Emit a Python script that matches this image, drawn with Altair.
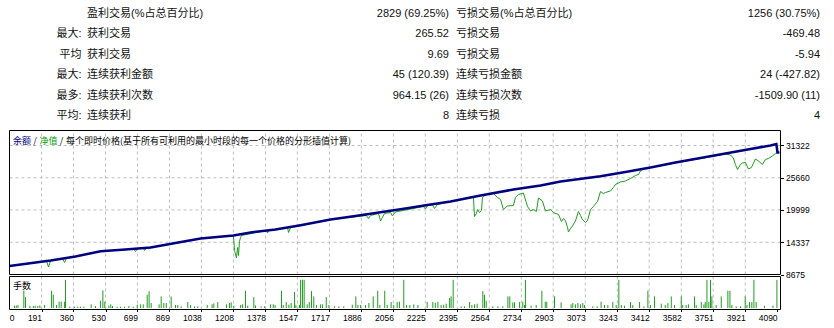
import altair as alt
import pandas as pd

# ---------------- summary table ----------------
row_prefix = ["", "最大:", "平均", "最大:", "最多:", "平均:"]
left_labels = ["盈利交易(%占总百分比)", "获利交易", "获利交易", "连续获利金额", "连续获利次数", "连续获利"]
left_values = ["2829 (69.25%)", "265.52", "9.69", "45 (120.39)", "964.15 (26)", "8"]
right_labels = ["亏损交易(%占总百分比)", "亏损交易", "亏损交易", "连续亏损金额", "连续亏损次数", "连续亏损"]
right_values = ["1256 (30.75%)", "-469.48", "-5.94", "24 (-427.82)", "-1509.90 (11)", "4"]

header_balance = "余额"
header_equity = "净值"
header_rest = "每个即时价格(基于所有可利用的最小时段的每一个价格的分形插值计算)"
volume_title = "手数"

# ---------------- axes ----------------
y_ticks = [8675, 14337, 19999, 25660, 31322]
x_ticks = [0, 191, 360, 530, 699, 869, 1038, 1208, 1378, 1547, 1717, 1886, 2056,
           2225, 2395, 2564, 2734, 2903, 3073, 3243, 3412, 3582, 3751, 3921, 4090]

# ---------------- balance (trade #, value) ----------------
balance_trade = [21, 239, 371, 504, 636, 769, 901, 1034, 1208, 1299,
                 1431, 1564, 1723, 1855, 1988, 2120, 2253, 2359, 2518, 2692,
                 2836, 2942, 3154, 3286, 3419, 3551, 3684, 3816, 3949, 4055,
                 4086, 4092, 4102]
balance_value = [10167, 11133, 11835, 12766, 13064, 13415, 14205, 14995, 15522, 16049,
                 16575, 17330, 18331, 18945, 19612, 20262, 20964, 21491, 22544, 23598,
                 24300, 25002, 25933, 26670, 27460, 28338, 29128, 29918, 30708, 31322,
                 31586, 30093, 30093]

# ---------------- equity (trade #, value) ----------------
equity_trade = [21, 133, 217, 228, 239, 302, 313, 323, 488, 504,
                678, 689, 700, 731, 737, 747, 901, 1034, 1208, 1214,
                1224, 1230, 1235, 1240, 1246, 1251, 1383, 1389, 1394, 1495,
                1500, 1511, 1723, 1913, 1924, 1935, 1977, 1988, 1998, 2009,
                2041, 2051, 2067, 2215, 2226, 2237, 2263, 2274, 2290, 2359,
                2480, 2486, 2496, 2502, 2512, 2523, 2528, 2544, 2586, 2608,
                2624, 2639, 2650, 2661, 2692, 2703, 2719, 2745, 2767, 2783,
                2798, 2814, 2825, 2846, 2862, 2889, 2904, 2931, 2947, 2957,
                2968, 2979, 2984, 2995, 3005, 3021, 3037, 3048, 3058, 3074,
                3085, 3101, 3116, 3138, 3154, 3169, 3180, 3207, 3222, 3233,
                3260, 3286, 3313, 3339, 3355, 3366, 3381, 3419, 3551, 3684,
                3816, 3843, 3858, 3869, 3880, 3896, 3906, 3922, 3938, 3954,
                3975, 3991, 4012, 4028, 4044, 4065, 4081, 4092, 4102]
equity_value = [10167, 10663, 11030, 9992, 11133, 11468, 10782, 11580, 12654, 12766,
                13175, 12713, 13233, 13315, 12888, 13357, 14205, 14995, 15522, 12888,
                11572, 13415, 12011, 14468, 15171, 15522, 16400, 15961, 16400, 16926,
                16049, 16926, 18331, 19033, 18506, 19033, 19384, 18067, 18682, 19384,
                19560, 18945, 19648, 20613, 20174, 20789, 20876, 20262, 20964, 21491,
                22369, 18857, 19384, 20086, 19560, 19911, 22193, 22632, 22895, 22193,
                21842, 20086, 20438, 20701, 20789, 22193, 22720, 22983, 20613, 19823,
                20086, 19735, 22105, 21579, 19823, 20086, 19560, 19209, 17980, 18506,
                18155, 16926, 16136, 16751, 17190, 18067, 19735, 19033, 18331, 17804,
                18155, 20086, 20613, 21491, 23246, 22895, 23071, 23334, 23949, 24475,
                24914, 25090, 25529, 26055, 26231, 26845, 27197, 27460, 28250, 29040,
                29830, 29654, 29128, 27987, 27109, 27987, 28250, 28338, 27197, 27460,
                28952, 28601, 27987, 28864, 29040, 29479, 29918, 30093, 30093]

# ---------------- lots per trade ----------------
volume_trade = [48, 57, 66, 97, 106, 129, 147, 157, 171, 182,
                207, 244, 253, 270, 284, 295, 313, 318, 341, 366,
                383, 397, 415, 454, 477, 503, 516, 526, 548, 558,
                567, 592, 610, 631, 654, 677, 698, 716, 730, 751,
                761, 772, 814, 825, 839, 852, 878, 901, 913, 931,
                966, 981, 1002, 1019, 1069, 1095, 1104, 1125, 1171, 1187,
                1196, 1210, 1246, 1256, 1272, 1284, 1316, 1325, 1355, 1373,
                1405, 1419, 1429, 1463, 1472, 1488, 1502, 1514, 1532, 1539,
                1558, 1564, 1574, 1583, 1599, 1610, 1622, 1634, 1648, 1670,
                1680, 1700, 1714, 1744, 1767, 1793, 1838, 1857, 1868, 1882,
                1908, 1926, 1949, 1973, 1984, 2010, 2023, 2044, 2058, 2076,
                2088, 2111, 2125, 2143, 2164,
                2186, 2235, 2265, 2278, 2292, 2309, 2323, 2336, 2354, 2362,
                2373, 2415, 2433, 2460, 2472, 2486, 2500, 2530, 2539, 2548,
                2583, 2610, 2636, 2663, 2673, 2689, 2698, 2725, 2742, 2751,
                2756, 2786, 2813, 2843, 2861, 2869, 2910, 2945, 2998, 3007,
                3021, 3034, 3048, 3060, 3069, 3113, 3136, 3157, 3175, 3193,
                3219, 3237, 3251, 3264, 3281, 3313, 3325, 3361, 3384, 3405,
                3419, 3440, 3476, 3497, 3511, 3529, 3546, 3582, 3590, 3608,
                3620, 3652, 3661, 3688, 3702, 3709, 3718, 3728, 3737, 3744,
                3767, 3794, 3829, 3840, 3850, 3873, 3896, 3921, 3930, 3944,
                3956, 3967, 3979, 4023, 4068, 4089]
volume_lots = [0.7, 0.7, 0.9, 5.3, 3.3, 0.7, 0.6, 0.7, 0.6, 0.8,
               0.9, 5.2, 4.0, 0.9, 1.9, 1.9, 1.9, 8.5, 0.4, 0.4,
               0.4, 0.4, 0.4, 1.1, 0.6, 2.2, 5.3, 1.9, 0.7, 1.1,
               0.6, 0.4, 0.4, 0.4, 0.6, 0.4, 1.0, 1.1, 1.1, 4.0,
               5.1, 1.5, 1.1, 3.5, 1.5, 1.5, 3.5, 0.9, 0.9, 0.5,
               1.8, 0.9, 0.5, 0.5, 0.9, 1.1, 1.4, 1.8, 1.1, 1.5,
               1.7, 0.7, 0.9, 1.1, 5.2, 0.7, 3.3, 0.8, 0.5, 0.5,
               1.1, 1.1, 0.9, 5.2, 0.9, 1.8, 1.0, 1.5, 4.8, 0.9,
               0.9, 8.5, 8.5, 8.5, 1.1, 1.8, 5.1, 3.5, 0.9, 1.1,
               1.1, 3.3, 0.9, 0.5, 0.5, 0.5, 1.0, 3.5, 0.9, 0.9,
               0.9, 1.5, 3.5, 5.2, 0.9, 5.2, 0.9, 1.8, 0.9, 1.8,
               1.9, 8.5, 0.9, 0.9, 1.1,
               0.9, 1.8, 1.8, 1.6, 1.9, 0.9, 1.0, 1.3, 3.0, 3.5,
               8.5, 0.5, 0.5, 1.8, 0.9, 1.1, 1.3, 5.1, 4.0, 2.2,
               0.5, 0.5, 0.5, 3.5, 3.5, 1.7, 1.7, 1.8, 1.9, 0.9,
               8.5, 0.7, 0.9, 5.2, 1.9, 1.9, 3.5, 1.7, 1.1, 1.5,
               1.1, 1.5, 1.1, 1.5, 0.9, 0.5, 0.5, 1.9, 0.9, 0.9,
               1.8, 0.9, 8.5, 0.9, 0.7, 1.8, 0.9, 1.8, 0.5, 5.2,
               0.9, 3.5, 1.3, 0.9, 1.5, 3.5, 0.9, 3.5, 0.9, 0.9,
               1.1, 3.5, 0.9, 1.8, 1.1, 1.8, 8.5, 1.8, 8.5, 3.5,
               0.9, 3.5, 5.2, 5.2, 0.9, 0.5, 0.5, 3.5, 0.9, 1.8,
               1.8, 8.5, 1.8, 0.7, 0.7, 8.5]

assert len(balance_trade) == len(balance_value)
assert len(equity_trade) == len(equity_value)
assert len(volume_trade) == len(volume_lots)

# ---------------- style / layout ----------------
FONT = "'Liberation Sans', 'Noto Sans CJK SC', sans-serif"
CJK = "'Noto Sans CJK SC', sans-serif"
NAVY = "#000080"
GREEN = "#1e9e1e"
GRID = "#bdbdbd"

X_DOMAIN = [21, 4108]
X_RANGE = [9.5, 780.5]
EQ_DOMAIN = [8675, 33955]
EQ_RANGE = [274.5, 130.5]
VOL_DOMAIN = [-0.45, 9.5]
VOL_RANGE = [309.5, 276.5]


def xs():
    return alt.Scale(domain=X_DOMAIN, range=X_RANGE, nice=False, zero=False)


def eq_ys():
    return alt.Scale(domain=EQ_DOMAIN, range=EQ_RANGE, nice=False, zero=False)


def vol_ys():
    return alt.Scale(domain=VOL_DOMAIN, range=VOL_RANGE, nice=False, zero=False)


layers = []

# --- summary table ---
table = pd.DataFrame({"row": list(range(len(row_prefix))), "prefix": row_prefix,
                      "ll": left_labels, "lv": left_values,
                      "rl": right_labels, "rv": right_values})
row_y = alt.Y("row:Q", scale=alt.Scale(domain=[0, 5], range=[13.5, 116], nice=False, zero=False), axis=None)
for field, xpos, align in [("prefix", 81.5, "right"), ("ll", 87, "left"), ("lv", 449, "right"),
                           ("rl", 456, "left"), ("rv", 820, "right")]:
    layers.append(
        alt.Chart(table).mark_text(align=align, baseline="middle", font=FONT, fontSize=11, color="#111111")
        .encode(x=alt.value(xpos), y=row_y, text=f"{field}:N")
    )

# --- grid lines ---
hgrid = pd.DataFrame({"v": y_ticks[1:], "x0": X_DOMAIN[0], "x1": X_DOMAIN[1]})
layers.append(
    alt.Chart(hgrid).mark_rule(color=GRID, strokeDash=[3, 3], strokeWidth=1)
    .encode(x=alt.X("x0:Q", scale=xs(), axis=None), x2="x1:Q",
            y=alt.Y("v:Q", scale=eq_ys(), axis=None))
)
vgrid_eq = pd.DataFrame({"t": x_ticks[1:-1], "y0": EQ_DOMAIN[0], "y1": EQ_DOMAIN[1]})
layers.append(
    alt.Chart(vgrid_eq).mark_rule(color=GRID, strokeDash=[3, 3], strokeWidth=1)
    .encode(x=alt.X("t:Q", scale=xs(), axis=None),
            y=alt.Y("y0:Q", scale=eq_ys(), axis=None), y2="y1:Q")
)
vgrid_vol = pd.DataFrame({"t": x_ticks[1:-1], "y0": VOL_DOMAIN[0], "y1": VOL_DOMAIN[1]})
layers.append(
    alt.Chart(vgrid_vol).mark_rule(color=GRID, strokeDash=[3, 3], strokeWidth=1)
    .encode(x=alt.X("t:Q", scale=xs(), axis=None),
            y=alt.Y("y0:Q", scale=vol_ys(), axis=None), y2="y1:Q")
)

# --- volume bars with the x axis ---
vol = pd.DataFrame({"t": volume_trade, "lots": volume_lots, "base": 0.0})
layers.append(
    alt.Chart(vol).mark_rule(color=GREEN, strokeWidth=1)
    .encode(
        x=alt.X("t:Q", scale=xs(),
                axis=alt.Axis(orient="bottom", offset=-18.5, values=x_ticks[1:], format="d",
                              domain=False, grid=False,
                              ticks=True, tickSize=2, tickColor="black", labelAlign="right",
                              labelFlush=False, labelOverlap=False, labelPadding=2, labelFont=FONT,
                              labelFontSize=8.5, labelColor="black", title=None)),
        y=alt.Y("lots:Q", scale=vol_ys(), axis=None), y2="base:Q")
)

# --- equity & balance ---
eq = pd.DataFrame({"t": equity_trade, "v": equity_value})
layers.append(
    alt.Chart(eq).mark_line(color=GREEN, strokeWidth=1)
    .encode(x=alt.X("t:Q", scale=xs(), axis=None), y=alt.Y("v:Q", scale=eq_ys(), axis=None))
)
bal = pd.DataFrame({"t": balance_trade, "v": balance_value})
layers.append(
    alt.Chart(bal).mark_line(color=NAVY, strokeWidth=2.5)
    .encode(
        x=alt.X("t:Q", scale=xs(), axis=None),
        y=alt.Y("v:Q", scale=eq_ys(),
                axis=alt.Axis(orient="right", offset=-53.5, values=y_ticks, format="d",
                              domain=False, grid=False,
                              ticks=True, tickSize=3, tickColor="black", labelPadding=2,
                              labelFont=FONT, labelFontSize=8.5, labelColor="black",
                              labelOverlap=False, title=None)))
)

# --- panel borders ---
box_eq = pd.DataFrame({"x0": [X_DOMAIN[0]], "x1": [X_DOMAIN[1]], "y0": [EQ_DOMAIN[0]], "y1": [EQ_DOMAIN[1]]})
layers.append(
    alt.Chart(box_eq).mark_rect(fillOpacity=0, stroke="black", strokeWidth=1)
    .encode(x=alt.X("x0:Q", scale=xs(), axis=None), x2="x1:Q",
            y=alt.Y("y0:Q", scale=eq_ys(), axis=None), y2="y1:Q")
)
box_vol = pd.DataFrame({"x0": [X_DOMAIN[0]], "x1": [X_DOMAIN[1]], "y0": [VOL_DOMAIN[0]], "y1": [VOL_DOMAIN[1]]})
layers.append(
    alt.Chart(box_vol).mark_rect(fillOpacity=0, stroke="black", strokeWidth=1)
    .encode(x=alt.X("x0:Q", scale=xs(), axis=None), x2="x1:Q",
            y=alt.Y("y0:Q", scale=vol_ys(), axis=None), y2="y1:Q")
)

# --- "0" label at the start of the trade axis ---
zero_lab = pd.DataFrame({"t": [x_ticks[0]], "label": [str(x_ticks[0])]})
layers.append(
    alt.Chart(zero_lab).mark_text(align="left", baseline="top", dx=4.2, font=FONT, fontSize=8.5, color="black")
    .encode(x=alt.X("t:Q", scale=xs(), axis=None), y=alt.value(313.5), text="label:N")
)

# --- header texts ---
def label(text, xpos, ypos, color, align="left", size=9):
    df = pd.DataFrame({"text": [text]})
    return (alt.Chart(df).mark_text(align=align, baseline="middle", font=CJK, fontSize=size, color=color)
            .encode(x=alt.value(xpos), y=alt.value(ypos), text="text:N"))


layers.append(label(header_balance, 13, 141, NAVY))
layers.append(label("/", 35, 141, "black", align="center"))
layers.append(label(header_equity, 39.5, 141, "#00a000"))
layers.append(label("/", 61.5, 141, "black", align="center"))
layers.append(label(header_rest, 66, 141, "black"))
layers.append(label(volume_title, 13, 286, "black"))

chart = (
    alt.layer(*layers)
    .resolve_scale(x="independent", y="independent")
    .properties(width=834, height=328, padding=0, autosize=alt.AutoSizeParams(type="none"),
                background="white")
    .configure_view(strokeWidth=0)
)

chart.save("out.html", embed_options={"renderer": "svg", "actions": False})
